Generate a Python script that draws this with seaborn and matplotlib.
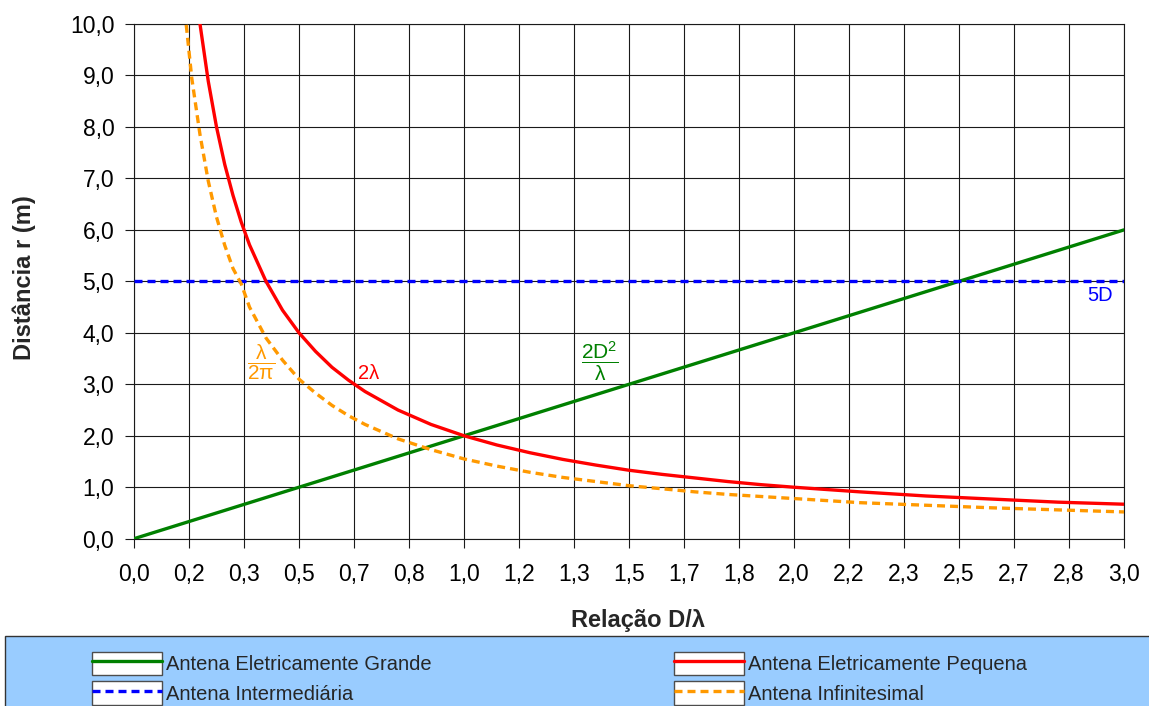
import numpy as np
import pandas as pd
import matplotlib
matplotlib.use("Agg")
import matplotlib.pyplot as plt
from matplotlib.patches import Rectangle
from matplotlib.lines import Line2D
from matplotlib.legend_handler import HandlerLine2D
import seaborn as sns

# ---- data -------------------------------------------------------------
ratio = [0.0, 0.15, 0.175, 0.2, 0.225, 0.25, 0.275, 0.3, 0.325, 0.35, 0.4,
         0.45, 0.5, 0.55, 0.6, 0.65, 0.7, 0.8, 0.9, 1.0, 1.1, 1.2, 1.3,
         1.4, 1.5, 1.6, 1.7, 1.8, 1.9, 2.0, 2.2, 2.4, 2.6, 2.8, 3.0]

grande = [0.0, 0.30, 0.35, 0.40, 0.45, 0.50, 0.55, 0.60, 0.65, 0.70, 0.80,
          0.90, 1.00, 1.10, 1.20, 1.30, 1.40, 1.60, 1.80, 2.00, 2.20, 2.40,
          2.60, 2.80, 3.00, 3.20, 3.40, 3.60, 3.80, 4.00, 4.40, 4.80, 5.20,
          5.60, 6.00]

pequena = [np.nan, 13.3, 11.4, 10.0, 8.89, 8.00, 7.27, 6.67, 6.15, 5.71,
           5.00, 4.44, 4.00, 3.64, 3.33, 3.08, 2.86, 2.50, 2.22, 2.00, 1.82,
           1.67, 1.54, 1.43, 1.33, 1.25, 1.18, 1.11, 1.05, 1.00, 0.91, 0.83,
           0.77, 0.71, 0.67]

intermediaria = [5.0] * len(ratio)

infinitesimal = [np.nan, 10.5, 8.95, 7.85, 6.95, 6.25, 5.70, 5.25, 4.95,
                 4.50, 3.90, 3.47, 3.10, 2.83, 2.59, 2.39, 2.22, 1.94, 1.73,
                 1.55, 1.41, 1.29, 1.19, 1.11, 1.03, 0.97, 0.91, 0.86, 0.82,
                 0.78, 0.70, 0.65, 0.60, 0.56, 0.52]

x_tick_labels = ["0,0", "0,2", "0,3", "0,5", "0,7", "0,8", "1,0", "1,2",
                 "1,3", "1,5", "1,7", "1,8", "2,0", "2,2", "2,3", "2,5",
                 "2,7", "2,8", "3,0"]

series_names = ["Antena Eletricamente Grande", "Antena Eletricamente Pequena",
                "Antena Intermediária", "Antena Infinitesimal"]

df = pd.DataFrame({"ratio": ratio, "grande": grande, "pequena": pequena,
                   "intermediaria": intermediaria,
                   "infinitesimal": infinitesimal})

# ---- style --------------------------------------------------------------
sns.set_style("white")
plt.rcParams["font.family"] = ["Liberation Sans", "DejaVu Sans"]
plt.rcParams["mathtext.fontset"] = "custom"
plt.rcParams["mathtext.rm"] = "Liberation Sans"
plt.rcParams["mathtext.it"] = "Liberation Sans"
plt.rcParams["mathtext.bf"] = "Liberation Sans:bold"
plt.rcParams["mathtext.default"] = "regular"

W, H = 1149, 706
fig = plt.figure(figsize=(W / 100, H / 100), dpi=100)
fig.patch.set_facecolor("white")

ax = fig.add_axes([134 / W, 1 - 538.7 / H, 990 / W, 514.7 / H])
ax.set_facecolor("white")

GREEN, RED, BLUE, ORANGE = "#008000", "#FF0000", "#0000FF", "#FF9900"
LW = 2.4
dash = (0, (2.4, 1.5))

sns.lineplot(data=df, x="ratio", y="grande", ax=ax, color=GREEN, lw=LW,
             label=series_names[0], legend=False, zorder=4)
sns.lineplot(data=df, x="ratio", y="pequena", ax=ax, color=RED, lw=LW,
             label=series_names[1], legend=False, zorder=5)
sns.lineplot(data=df, x="ratio", y="intermediaria", ax=ax, color=BLUE,
             lw=LW, linestyle=dash, label=series_names[2], legend=False,
             zorder=4)
sns.lineplot(data=df, x="ratio", y="infinitesimal", ax=ax, color=ORANGE,
             lw=LW, linestyle=dash, label=series_names[3], legend=False,
             zorder=4)

ax.set_xlim(0, 3.0)
ax.set_ylim(0, 10)
ax.set_xticks(np.linspace(0, 3.0, len(x_tick_labels)))
ax.set_xticklabels(x_tick_labels)
yt = np.arange(0, 11, 1)
ax.set_yticks(yt)
ax.set_yticklabels([f"{v:.1f}".replace(".", ",") for v in yt])
ax.set_xlabel("")
ax.set_ylabel("")

ax.grid(True, color="#1a1a1a", lw=0.8, zorder=1)
ax.set_axisbelow(True)
for s in ax.spines.values():
    s.set_color("#1a1a1a")
    s.set_linewidth(0.8)
ax.tick_params(axis="both", direction="out", length=6.2, width=0.8,
               color="#1a1a1a", labelsize=16.5, labelcolor="black")
ax.tick_params(axis="x", pad=11)
ax.tick_params(axis="y", pad=8)
ax.tick_params(bottom=True, left=True)

# curve annotations
ax.text(2.927, 4.73, "5D", color=BLUE, fontsize=14.5, ha="center",
        va="center")
ax.text(0.712, 3.2, "2λ", color=RED, fontsize=14.5, ha="center",
        va="center")
ax.text(0.386, 3.42, r"$\dfrac{\lambda}{2\pi}$", color=ORANGE, fontsize=15,
        ha="center", va="center")
ax.text(1.41, 3.45, r"$\dfrac{2D^2}{\lambda}$", color=GREEN, fontsize=15,
        ha="center", va="center")

# axis titles
fig.text(24 / W, 1 - 278 / H, "Distância r (m)", rotation=90, ha="center",
         va="center", fontsize=17, fontweight="bold")
fig.text(638 / W, 1 - 621 / H, "Relação D/λ", ha="center", va="center",
         fontsize=17, fontweight="bold")

# legend band
fig.patches.append(Rectangle((5 / W, -0.01), 1.0, (706 - 636) / H + 0.01,
                             transform=fig.transFigure, facecolor="#99CCFF",
                             edgecolor="#333333", lw=1.0, zorder=0))


class BoxedLine(HandlerLine2D):
    def create_artists(self, legend, orig_handle, xdescent, ydescent, width,
                       height, fontsize, trans):
        arts = super().create_artists(legend, orig_handle, xdescent,
                                      ydescent, width, height, fontsize,
                                      trans)
        box = Rectangle((-xdescent, -ydescent), width, height,
                        facecolor="white", edgecolor="#4d4d4d", lw=1.0,
                        transform=trans)
        return [box] + list(arts)


def handle(color, ls):
    return Line2D([], [], color=color, lw=LW, linestyle=ls)


leg_kw = dict(frameon=False, loc="upper left", borderpad=0,
              handlelength=3.45, handleheight=1.4, handletextpad=0.2,
              labelspacing=0.3, fontsize=14.5,
              handler_map={Line2D: BoxedLine(marker_pad=0)},
              bbox_transform=fig.transFigure)

leg1 = fig.legend([handle(GREEN, "-"), handle(BLUE, dash)],
                  [series_names[0], series_names[2]],
                  bbox_to_anchor=(82 / W, 1 - 642 / H), **leg_kw)
leg2 = fig.legend([handle(RED, "-"), handle(ORANGE, dash)],
                  [series_names[1], series_names[3]],
                  bbox_to_anchor=(664 / W, 1 - 642 / H), **leg_kw)

fig.savefig("out.png", dpi=100, facecolor="white")
